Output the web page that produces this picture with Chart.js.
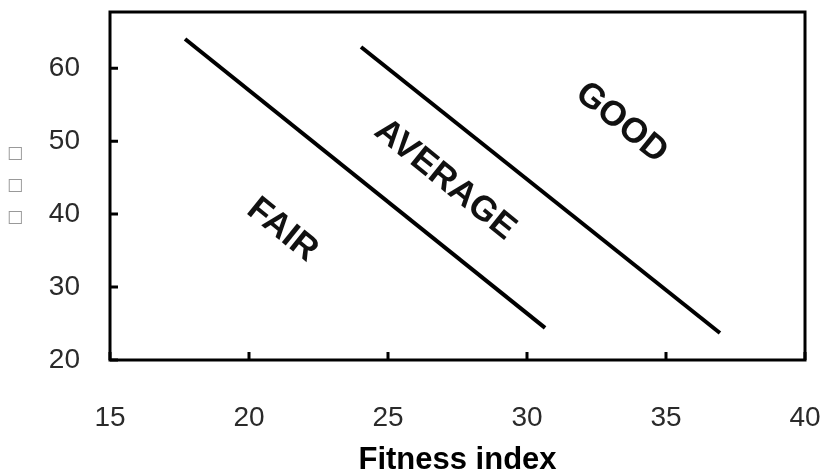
<!DOCTYPE html>
<html>
<head>
<meta charset="utf-8">
<script src="https://cdn.jsdelivr.net/npm/chart.js@4.4.0/dist/chart.umd.min.js"></script>
<style>
  html, body { margin: 0; padding: 0; background: #fff; }
  #wrap { position: relative; width: 820px; height: 476px; }
  #ylabel {
    position: absolute; left: 7px; top: 136px;
    font-family: "DejaVu Sans", sans-serif; font-size: 17px; line-height: 32px;
    color: #999;
  }
</style>
</head>
<body>
<div id="wrap">
  <canvas id="fitChart" width="820" height="476"></canvas>
  <div id="ylabel">□<br>□<br>□</div>
</div>
<script>
// boundary lines
const fairLineX = [17.7, 30.65];
const fairLineY = [64.0, 24.4];
const goodLineX = [24.03, 36.94];
const goodLineY = [62.9, 23.7];

// zone labels and where they sit (data units)
const zoneNames = ['FAIR', 'AVERAGE', 'GOOD'];
const zoneX = [21.2, 27.05, 33.4];
const zoneY = [37.8, 44.7, 52.5];

const xTicks = [15, 20, 25, 30, 35, 40];
const yTicks = [20, 30, 40, 50, 60];
const xTitle = 'Fitness index';

function toPoints(xs, ys) {
  return xs.map((x, i) => ({ x: x, y: ys[i] }));
}

// frame, inward tick marks and the zone labels
const decorPlugin = {
  id: 'decor',
  afterDatasetsDraw(chart) {
    const ctx = chart.ctx;
    const a = chart.chartArea;
    const xs = chart.scales.x, ys = chart.scales.y;
    ctx.save();
    ctx.strokeStyle = '#000';
    ctx.lineWidth = 3;
    ctx.strokeRect(a.left, a.top, a.right - a.left, a.bottom - a.top);

    ctx.beginPath();
    xTicks.forEach(v => {
      const px = xs.getPixelForValue(v);
      ctx.moveTo(px, a.bottom);
      ctx.lineTo(px, a.bottom - 8);
    });
    yTicks.forEach(v => {
      const py = ys.getPixelForValue(v);
      ctx.moveTo(a.left, py);
      ctx.lineTo(a.left + 8, py);
    });
    ctx.stroke();

    ctx.fillStyle = '#111';
    ctx.font = 'bold 35px "Liberation Sans", Arial, sans-serif';
    ctx.textAlign = 'center';
    ctx.textBaseline = 'middle';
    zoneNames.forEach((name, i) => {
      ctx.save();
      ctx.translate(xs.getPixelForValue(zoneX[i]), ys.getPixelForValue(zoneY[i]));
      ctx.rotate(39 * Math.PI / 180);
      ctx.fillText(name, 0, 0);
      ctx.restore();
    });
    ctx.restore();
  }
};

const lineStyle = {
  showLine: true,
  borderColor: '#000',
  borderWidth: 4,
  pointRadius: 0,
  fill: false
};

const tickFont = { family: '"Liberation Sans", Arial, sans-serif', size: 28 };

new Chart(document.getElementById('fitChart').getContext('2d'), {
  type: 'scatter',
  data: {
    datasets: [
      Object.assign({ data: toPoints(fairLineX, fairLineY) }, lineStyle),
      Object.assign({ data: toPoints(goodLineX, goodLineY) }, lineStyle)
    ]
  },
  options: {
    responsive: false,
    animation: false,
    layout: { padding: { top: 12, right: 15, left: 0, bottom: 0 } },
    plugins: { legend: { display: false }, tooltip: { enabled: false } },
    scales: {
      x: {
        type: 'linear',
        min: 15, max: 40,
        afterBuildTicks: s => { s.ticks = xTicks.map(v => ({ value: v })); },
        afterFit: s => { s.height = 116; s.paddingLeft = 0; s.paddingRight = 0; },
        grid: { display: false },
        border: { display: false },
        ticks: { padding: 33, color: '#2a2a2a', font: tickFont },
        title: {
          display: true,
          text: xTitle,
          color: '#000',
          padding: { top: 0, bottom: 0 },
          font: { family: '"Liberation Sans", Arial, sans-serif', size: 31, weight: 'bold', lineHeight: 1 }
        }
      },
      y: {
        type: 'linear',
        min: 20, max: 67.7,
        afterBuildTicks: s => { s.ticks = yTicks.map(v => ({ value: v })); },
        afterFit: s => { s.width = 110; s.paddingTop = 0; s.paddingBottom = 0; },
        grid: { display: false },
        border: { display: false },
        ticks: { padding: 22, color: '#2a2a2a', font: tickFont }
      }
    }
  },
  plugins: [decorPlugin]
});
</script>
</body>
</html>
